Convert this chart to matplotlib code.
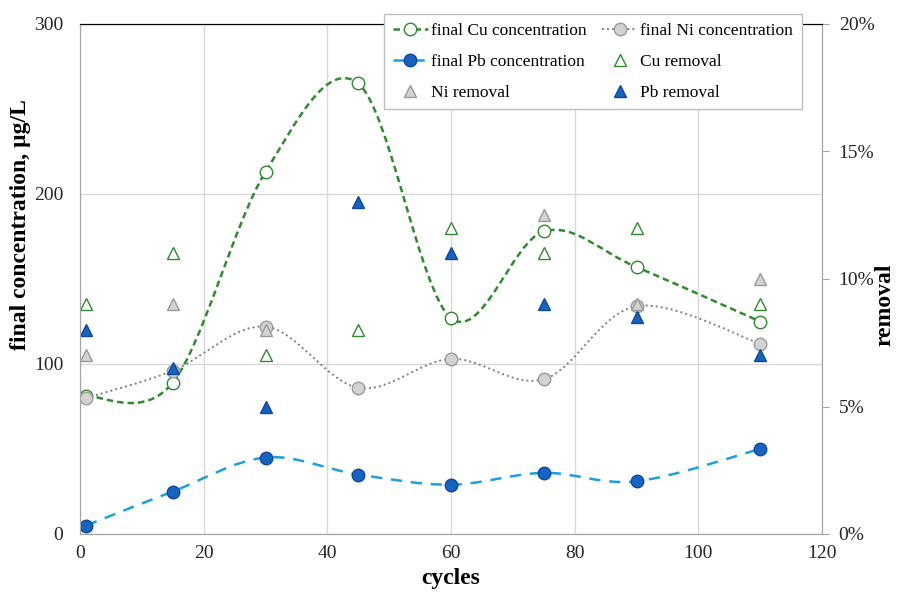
import numpy as np
import matplotlib.pyplot as plt
from matplotlib.path import Path
from matplotlib.patches import PathPatch
from matplotlib.lines import Line2D
from matplotlib.ticker import PercentFormatter

plt.rcParams['font.family'] = ['Liberation Serif', 'DejaVu Serif']

# data
cycles = [1, 15, 30, 45, 60, 75, 90, 110]
cu_conc = [81, 89, 213, 265, 127, 178, 157, 125]
ni_conc = [80, 96, 122, 86, 103, 91, 134, 112]
pb_conc = [5, 25, 45, 35, 29, 36, 31, 50]
# removal in %
cu_rem = [9.0, 11.0, 7.0, 8.0, 12.0, 11.0, 12.0, 9.0]
ni_rem = [7.0, 9.0, 8.0, np.nan, np.nan, 12.5, 9.0, 10.0]
pb_rem = [8.0, 6.5, 5.0, 13.0, 11.0, 9.0, 8.5, 7.0]

cu_col = '#2E8B2E'
ni_col = '#808080'
pb_line = '#1E9FE0'
pb_fill = '#1565C0'
pb_edge = '#0D47A1'
ni_fill = '#D3D3D3'
ni_edge = '#9A9A9A'


def smooth_path(x, y):
    # Excel-like smoothed line: cubic bezier segments (Catmull-Rom control points)
    p = np.column_stack([x, y]).astype(float)
    n = len(p)
    verts = [p[0]]
    codes = [Path.MOVETO]
    for i in range(n - 1):
        p0 = p[i - 1] if i > 0 else p[i]
        p3 = p[i + 2] if i + 2 < n else p[i + 1]
        c1 = p[i] + (p[i + 1] - p0) / 6.0
        c2 = p[i + 1] - (p3 - p[i]) / 6.0
        verts += [c1, c2, p[i + 1]]
        codes += [Path.CURVE4] * 3
    return Path(verts, codes)


fig = plt.figure(figsize=(8.97, 5.95), dpi=100)
ax = fig.add_axes([80 / 897, 61 / 595, 742 / 897, 510 / 595])
ax2 = ax.twinx()

# concentration series
series = [
    (cu_conc, cu_col, (0, (2.6, 1.6)), 1.8, 'white', cu_col),
    (ni_conc, ni_col, (0, (1, 1.6)), 1.4, ni_fill, ni_edge),
    (pb_conc, pb_line, (0, (4.5, 3.5)), 1.8, pb_fill, pb_edge),
]
for y, lc, ls, lw, fc, ec in series:
    ax.add_patch(PathPatch(smooth_path(cycles, y), facecolor='none', edgecolor=lc,
                           linestyle=ls, linewidth=lw, zorder=2))
    ax.plot(cycles, y, 'o', ms=9, mfc=fc, mec=ec, mew=1.0, zorder=3)

# removal series
ax2.plot(cycles, cu_rem, '^', ms=9, mfc='white', mec=cu_col, mew=1.0)
ax2.plot(cycles, ni_rem, '^', ms=9, mfc=ni_fill, mec=ni_edge, mew=1.0)
ax2.plot(cycles, pb_rem, '^', ms=9, mfc=pb_fill, mec=pb_edge, mew=1.0)

ax.set_xlim(0, 120)
ax.set_ylim(0, 300)
ax.set_xticks(np.arange(0, 121, 20))
ax.set_yticks([0, 100, 200, 300])
ax2.set_ylim(0, 20)
ax2.set_yticks([0, 5, 10, 15, 20])
ax2.yaxis.set_major_formatter(PercentFormatter(100, decimals=0))

ax.grid(True, color='#D9D9D9', linewidth=1.0)
ax.set_axisbelow(True)
for s in ['left', 'bottom', 'right']:
    ax.spines[s].set_color('#A6A6A6')
    ax2.spines[s].set_color('#A6A6A6')
ax.spines['top'].set_color('black')
ax2.spines['top'].set_color('black')
ax.tick_params(axis='x', length=0, labelsize=14, colors='#262626', pad=8)
ax.tick_params(axis='y', length=0, labelsize=14, colors='#262626', pad=12)
ax2.tick_params(axis='y', length=5, color='#A6A6A6', labelsize=14,
                labelcolor='#262626', pad=7)

ax.set_xlabel('cycles', fontsize=17, fontweight='bold', labelpad=4)
ax.set_ylabel('final concentration, µg/L', fontsize=17, fontweight='bold')
ax.yaxis.set_label_coords(-0.066, 0.606)
ax2.set_ylabel('removal', fontsize=17, fontweight='bold')
ax2.yaxis.set_label_coords(1.071, 0.449)

h_cu = Line2D([], [], color=cu_col, ls=(0, (2.6, 1.6)), lw=1.8, marker='o', ms=9,
              mfc='white', mec=cu_col)
h_ni = Line2D([], [], color=ni_col, ls=(0, (1, 1.6)), lw=1.4, marker='o', ms=9,
              mfc=ni_fill, mec=ni_edge)
h_pb = Line2D([], [], color=pb_line, ls=(0, (4.5, 3.5)), lw=1.8, marker='o', ms=9,
              mfc=pb_fill, mec=pb_edge)
h_cur = Line2D([], [], ls='none', marker='^', ms=9, mfc='white', mec=cu_col)
h_nir = Line2D([], [], ls='none', marker='^', ms=9, mfc=ni_fill, mec=ni_edge)
h_pbr = Line2D([], [], ls='none', marker='^', ms=9, mfc=pb_fill, mec=pb_edge)

handles = [h_cu, h_pb, h_nir, h_ni, h_cur, h_pbr]
labels = ['final Cu concentration', 'final Pb concentration', 'Ni removal',
          'final Ni concentration', 'Cu removal', 'Pb removal']
leg = ax2.legend(handles, labels, ncol=2, loc='upper right',
                 bbox_to_anchor=(802 / 897, 1 - 14 / 595), bbox_transform=fig.transFigure,
                 borderaxespad=0, fontsize=12.5, frameon=True, fancybox=False,
                 framealpha=1, edgecolor='#BFBFBF', handlelength=2.0,
                 handletextpad=0.2, columnspacing=0.9, labelspacing=0.85,
                 borderpad=0.5)
leg.get_frame().set_linewidth(1.0)

fig.savefig('out.png', dpi=100)
